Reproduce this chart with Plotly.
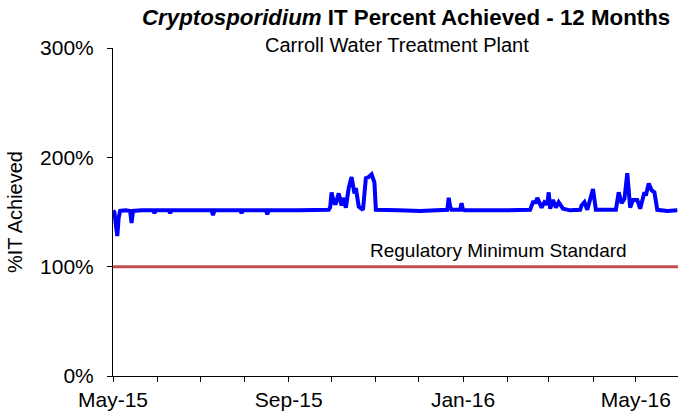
import plotly.graph_objects as go

# ---- data ----
DATES = [
    "2015-05-01", "2015-05-02", "2015-05-03", "2015-05-04", "2015-05-05", "2015-05-06",
    "2015-05-10", "2015-05-13", "2015-05-14", "2015-05-15", "2015-05-21", "2015-05-29",
    "2015-05-30", "2015-05-31", "2015-06-09", "2015-06-10", "2015-06-11", "2015-06-25",
    "2015-07-09", "2015-07-10", "2015-07-11", "2015-07-29", "2015-07-30", "2015-07-31",
    "2015-08-16", "2015-08-17", "2015-08-18", "2015-09-08", "2015-09-28",
    "2015-09-29", "2015-09-30", "2015-10-01", "2015-10-02", "2015-10-03", "2015-10-04",
    "2015-10-06", "2015-10-08", "2015-10-09", "2015-10-11", "2015-10-13", "2015-10-15",
    "2015-10-17", "2015-10-18", "2015-10-20", "2015-10-23", "2015-10-24", "2015-10-25",
    "2015-10-27", "2015-10-29", "2015-10-31", "2015-11-01", "2015-11-17", "2015-12-02",
    "2015-12-21", "2015-12-22", "2015-12-23", "2015-12-24", "2015-12-30", "2015-12-31",
    "2016-01-01", "2016-01-02", "2016-01-26", "2016-02-17", "2016-02-19", "2016-02-21",
    "2016-02-22", "2016-02-25", "2016-02-27", "2016-02-29", "2016-03-01", "2016-03-02",
    "2016-03-04", "2016-03-06", "2016-03-08", "2016-03-11", "2016-03-16", "2016-03-23",
    "2016-03-24", "2016-03-26", "2016-03-28", "2016-04-01", "2016-04-03", "2016-04-17",
    "2016-04-19", "2016-04-21", "2016-04-23", "2016-04-25", "2016-04-27", "2016-04-29",
    "2016-05-02", "2016-05-04", "2016-05-07", "2016-05-08", "2016-05-10", "2016-05-12",
    "2016-05-14", "2016-05-16", "2016-05-23", "2016-05-30",
]
PCT_IT = [
    151, 150, 138, 128, 145, 151,
    151.5, 151, 140, 151, 151.5, 151.5,
    149, 151.5, 151.5, 149, 151.5, 151.5,
    151.5, 147, 151.5, 151.5, 149, 151.5,
    151.5, 148, 151.5, 151.5, 151.5,
    152, 154, 168, 162, 158, 158,
    167, 156, 163, 154, 172, 182,
    167, 172, 155, 152, 165, 181,
    182, 184.5, 177, 152, 151.5, 151,
    152, 163, 155, 152, 152, 158,
    152, 151.5, 151.5, 152, 159, 159,
    163, 154, 159, 157, 168, 153,
    161, 154, 159, 153, 151.5, 152,
    156, 159, 152, 171, 152, 152,
    168, 158, 162, 185.5, 154, 161,
    161, 153, 168, 165, 176, 170,
    168, 152, 151, 151.5,
]
REG_DATES = ["2015-05-01", "2016-05-30 12:00"]
REG_MIN = [100, 100]

MONTH_TICKS = [
    "2015-05-01", "2015-06-01", "2015-07-01", "2015-08-01", "2015-09-01", "2015-10-01",
    "2015-11-01", "2015-12-01", "2016-01-01", "2016-02-01", "2016-03-01", "2016-04-01",
    "2016-05-01",
]
MONTH_LABELS = ["May-15", "", "", "", "Sep-15", "", "", "", "Jan-16", "", "", "", "May-16"]
Y_TICKS = [0, 100, 200, 300]
Y_LABELS = ["0%", "100%", "200%", "300%"]

FONT = "Liberation Sans, Arial, sans-serif"

fig = go.Figure()
fig.add_trace(go.Scatter(x=REG_DATES, y=REG_MIN, mode="lines",
                         line=dict(color="#C0504D", width=3), hoverinfo="skip"))
fig.add_trace(go.Scatter(x=DATES, y=PCT_IT, mode="lines",
                         line=dict(color="#0000FF", width=4)))

fig.update_layout(
    width=678, height=415,
    margin=dict(l=113, r=0, t=48, b=39),
    paper_bgcolor="white", plot_bgcolor="white",
    showlegend=False,
    font=dict(family=FONT, color="black"),
    xaxis=dict(
        range=["2015-05-01", "2016-05-30 12:00"],
        tickmode="array", tickvals=MONTH_TICKS, ticktext=MONTH_LABELS,
        ticks="outside", ticklen=5, tickcolor="black", tickwidth=1,
        showline=True, linecolor="black", linewidth=1,
        showgrid=False, zeroline=False,
        tickfont=dict(size=21, family=FONT, color="black"),
    ),
    yaxis=dict(
        range=[0, 300],
        tickmode="array", tickvals=Y_TICKS, ticktext=Y_LABELS,
        ticks="outside", ticklen=5, tickcolor="black", tickwidth=1,
        ticklabelstandoff=9,
        showline=True, linecolor="black", linewidth=1,
        showgrid=False, zeroline=False,
        tickfont=dict(size=21, family=FONT, color="black"),
    ),
    annotations=[
        dict(text="<b><i>Cryptosporidium</i> IT Percent Achieved - 12 Months</b>",
             xref="paper", yref="paper", x=0.989, y=1.0945,
             xanchor="right", yanchor="middle", showarrow=False,
             font=dict(size=22.3, family=FONT, color="black")),
        dict(text="Carroll Water Treatment Plant",
             xref="paper", yref="paper", x=0.503, y=1.009,
             xanchor="center", yanchor="middle", showarrow=False,
             font=dict(size=20, family=FONT, color="black")),
        dict(text="Regulatory Minimum Standard",
             xref="paper", yref="y", x=0.683, y=115,
             xanchor="center", yanchor="middle", showarrow=False,
             font=dict(size=19, family=FONT, color="black")),
        dict(text="%IT Achieved", textangle=-90,
             xref="paper", yref="paper", x=-0.1735, y=0.5,
             xanchor="center", yanchor="middle", showarrow=False,
             font=dict(size=20, family=FONT, color="black")),
    ],
)

fig.write_html("out.html", config={"displayModeBar": False},
               post_script="document.body.style.margin='0';document.body.style.overflow='hidden';")
